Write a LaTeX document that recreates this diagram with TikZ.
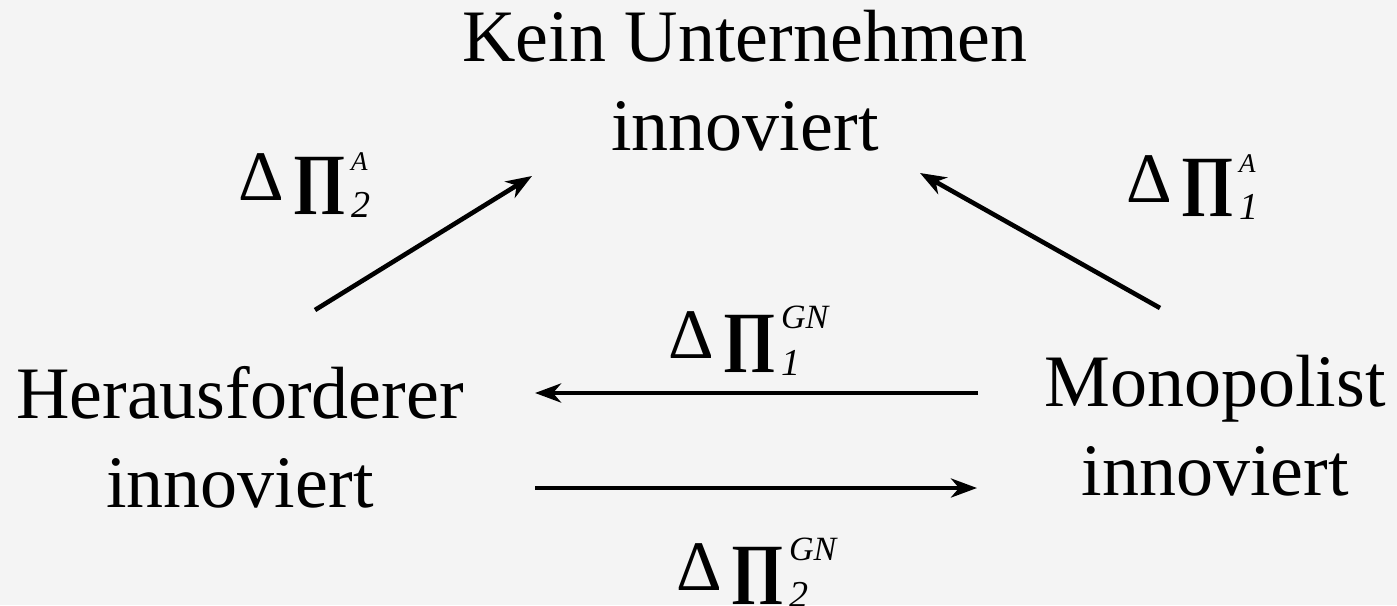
\documentclass[tikz,border=0pt]{standalone}
\usepackage{fontspec}
\setmainfont{Liberation Serif}
\usetikzlibrary{arrows.meta}
\newcommand{\scrfont}[1]{\fontsize{#1}{#1}\selectfont\itshape}
\newcommand{\dlabel}[3]{{\fontsize{71}{71}\selectfont Δ}\kern9pt{\bfseries ∏}\kern4pt\rlap{\raisebox{30pt}{\scrfont{#3}#1}}\raisebox{-17pt}{\scrfont{38}#2}}
\begin{document}
\begin{tikzpicture}[x=1pt,y=-1pt,
  state/.style={inner sep=0pt,align=center,font=\fontsize{74}{89}\selectfont,anchor=base},
  lbl/.style={inner sep=0pt,font=\fontsize{66}{70}\selectfont,anchor=base west},
  conn/.style={line width=4.6pt,-{Stealth[length=26pt,width=19pt,inset=8pt]}}]
\fill[fill={rgb,255:red,244;green,244;blue,244}] (0,0) rectangle (1397,605);
\useasboundingbox (0,0) rectangle (1397,605);
\node[state] (kein) at (745,150) {Kein Unternehmen\\innoviert};
\node[state] (her) at (240,507) {Herausforderer\\innoviert};
\node[state] (mono) at (1215,495) {Monopolist\\innoviert};
\node[lbl] (l2a) at (238,200) {\dlabel{A}{2}{27}};
\node[lbl] (l1a) at (1126,202) {\dlabel{A}{1}{27}};
\node[lbl] (l1gn) at (668,358) {\dlabel{GN}{1}{34}};
\node[lbl] (l2gn) at (676,590) {\dlabel{GN}{2}{34}};
\coordinate (a1s) at (315,310); \coordinate (a1e) at (532,176);
\coordinate (a2s) at (1160,308); \coordinate (a2e) at (920,173);
\coordinate (a3s) at (978,393); \coordinate (a3e) at (535,393);
\coordinate (a4s) at (535,488); \coordinate (a4e) at (977,488);
\draw[conn] (a1s) -- (a1e);
\draw[conn] (a2s) -- (a2e);
\draw[conn] (a3s) -- (a3e);
\draw[conn] (a4s) -- (a4e);
\end{tikzpicture}
\end{document}
